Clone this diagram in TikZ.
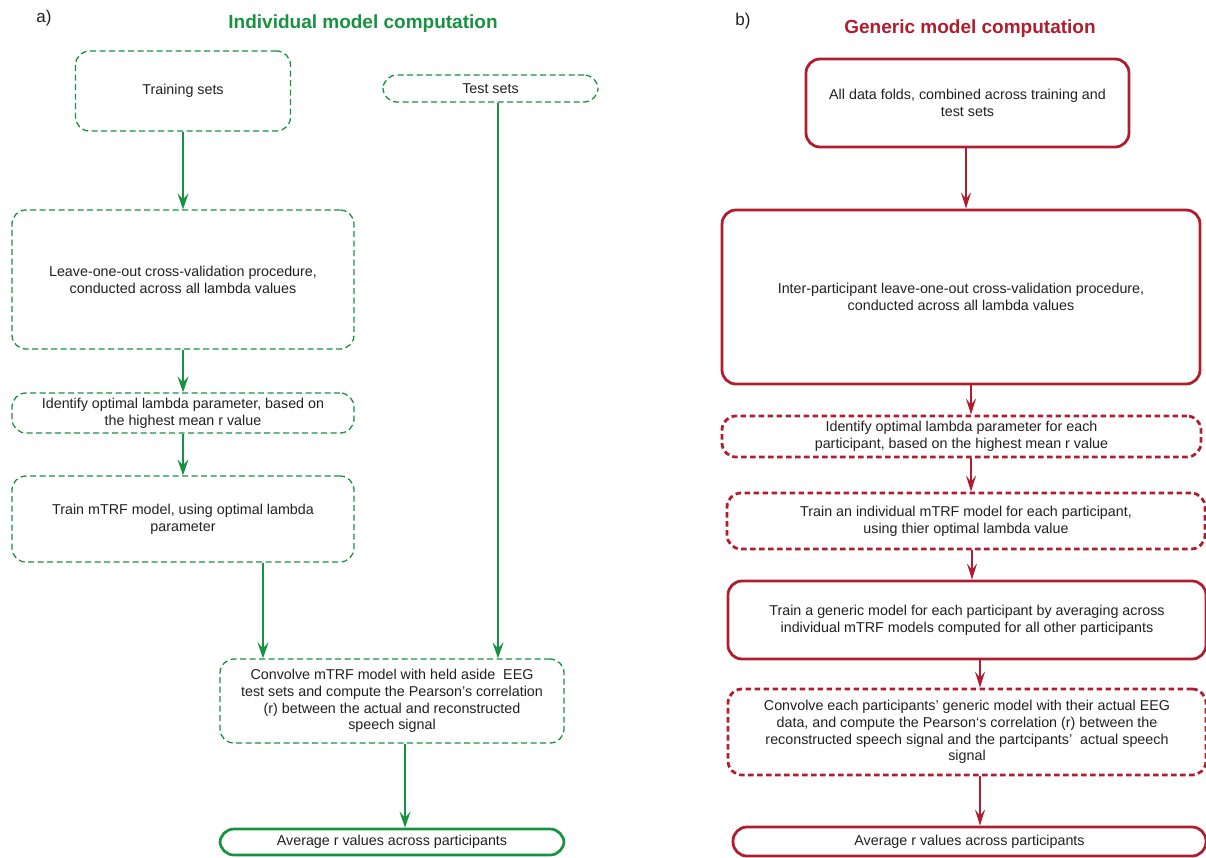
\documentclass[tikz,border=0pt]{standalone}
\usepackage{fontspec}
\setmainfont{Liberation Sans}
\usetikzlibrary{arrows.meta}
\definecolor{IndGreen}{RGB}{22,146,64}
\definecolor{GenRed}{RGB}{176,29,46}
\definecolor{TextGrey}{RGB}{35,31,32}

\begin{document}
\begin{tikzpicture} [x=1pt, y=-1pt, inner sep=2pt, rounded corners=14pt, align=center, text=TextGrey,
                font=\fontsize{14.3}{16.8}\selectfont,
                gdashed/.style={draw=IndGreen, line width=1.3pt, dash pattern=on 6pt off 3.5pt},
                gsolid/.style={draw=IndGreen, line width=2.7pt},
                rdashed/.style={draw=GenRed, line width=2.8pt, dash pattern=on 5.5pt off 3.5pt},
                rsolid/.style={draw=GenRed, line width=2.8pt},
                garrow/.style={draw=IndGreen, line width=1.4pt, sharp corners, -{Stealth[length=16pt, width=11pt, inset=6pt]}},
                rarrow/.style={draw=GenRed, line width=1.4pt, sharp corners, -{Stealth[length=16pt, width=10pt, inset=6pt]}},
                heading/.style={font=\fontsize{19}{22}\selectfont\bfseries},
                panel/.style={font=\fontsize{17}{20}\selectfont}]
                \useasboundingbox (0,0) rectangle (1206,857);

                % a) individual model
                \node (LabelA) [panel] at(44,18) {a)};
                \node (TitleA) [heading, text=IndGreen] at(363,24) {Individual model computation};
                \node (Training) [gdashed, minimum width=215, minimum height=80] at(183,91) {Training sets};
                \node (Test) [gdashed, minimum width=215, minimum height=27] at(490.5,88.5) {Test sets};
                \node (LOO) [gdashed, minimum width=342, minimum height=139] at(183,279.5) {Leave-one-out cross-validation procedure,\\ conducted across all lambda values};
                \node (Identify) [gdashed, minimum width=342, minimum height=40] at(183,413) {Identify optimal lambda parameter, based on\\ the highest mean r value};
                \node (TrainModel) [gdashed, minimum width=342, minimum height=86] at(183,519) {Train mTRF model, using optimal lambda\\ parameter};
                \node (Convolve) [gdashed, minimum width=344, minimum height=84] at(392,701) {Convolve mTRF model with held aside \ EEG\\ test sets and compute the Pearson’s correlation\\ (r) between the actual and reconstructed\\ speech signal};
                \node (Average) [gsolid, minimum width=344, minimum height=26] at(392,842) {Average r values across participants};

                \draw[garrow] (Training.south) -- (Training.south |- LOO.north);
                \draw[garrow] (LOO.south) -- (LOO.south |- Identify.north);
                \draw[garrow] (Identify.south) -- (Identify.south |- TrainModel.north);
                \draw[garrow] ([xshift=80pt]TrainModel.south) -- ([xshift=80pt]TrainModel.south |- Convolve.north);
                \draw[garrow] ([xshift=7.5pt]Test.south) -- ([xshift=7.5pt]Test.south |- Convolve.north);
                \draw[garrow] ([xshift=13pt]Convolve.south) -- ([xshift=13pt]Convolve.south |- Average.north);

                % b) generic model
                \node (LabelB) [panel] at(743,21) {b)};
                \node (TitleB) [heading, text=GenRed] at(970,29) {Generic model computation};
                \node (AllData) [rsolid, minimum width=323, minimum height=88] at(967.5,103) {All data folds, combined across training and\\ test sets};
                \node (InterLOO) [rsolid, minimum width=478, minimum height=174] at(961,297) {Inter-participant leave-one-out cross-validation procedure,\\ conducted across all lambda values};
                \node (IdentifyEach) [rdashed, minimum width=479, minimum height=41] at(961.5,436.5) {Identify optimal lambda parameter for each\\ participant, based on the highest mean r value};
                \node (TrainIndiv) [rdashed, minimum width=478, minimum height=56] at(966,521) {Train an individual mTRF model for each participant,\\ using thier optimal lambda value};
                \node (TrainGeneric) [rsolid, minimum width=478, minimum height=78] at(967,620) {Train a generic model for each participant by averaging across\\ individual mTRF models computed for all other participants};
                \node (ConvolveEach) [rdashed, minimum width=478, minimum height=86] at(967,732) {Convolve each participants’ generic model with their actual EEG\\ data, and compute the Pearson‘s correlation (r) between the\\ reconstructed speech signal and the partcipants’ \ actual speech\\ signal};
                \node (AverageAll) [rsolid, minimum width=473, minimum height=29] at(969.5,841.5) {Average r values across participants};

                \draw[rarrow] ([xshift=-1.5pt]AllData.south) -- ([xshift=-1.5pt]AllData.south |- InterLOO.north);
                \draw[rarrow] ([xshift=10pt]InterLOO.south) -- ([xshift=10pt]InterLOO.south |- IdentifyEach.north);
                \draw[rarrow] ([xshift=9.5pt]IdentifyEach.south) -- ([xshift=9.5pt]IdentifyEach.south |- TrainIndiv.north);
                \draw[rarrow] ([xshift=6pt]TrainIndiv.south) -- ([xshift=6pt]TrainIndiv.south |- TrainGeneric.north);
                \draw[rarrow] ([xshift=13pt]TrainGeneric.south) -- ([xshift=13pt]TrainGeneric.south |- ConvolveEach.north);
                \draw[rarrow] ([xshift=13pt]ConvolveEach.south) -- ([xshift=13pt]ConvolveEach.south |- AverageAll.north);
            \end{tikzpicture}
\end{document}
